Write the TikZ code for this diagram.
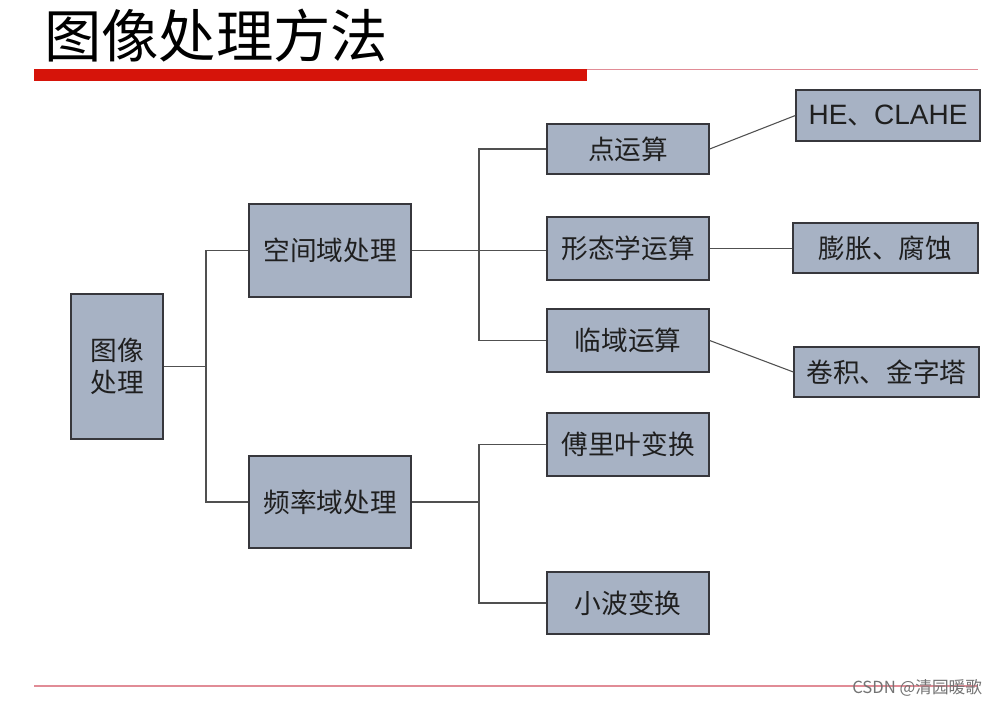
\documentclass[tikz,border=0pt]{standalone}
\usepackage{fontspec}
\newfontfamily\cjk{Noto Sans CJK SC}
\newfontfamily\lat{Liberation Sans}
\definecolor{boxfill}{RGB}{167,178,196}
\definecolor{boxline}{RGB}{55,55,60}
\definecolor{connline}{RGB}{80,80,80}
\definecolor{barred}{RGB}{214,20,10}
\definecolor{thinred}{RGB}{225,140,150}
\tikzset{
  box/.style={draw=boxline, line width=1pt, fill=boxfill, inner sep=0pt,
    font=\cjk\fontsize{20}{24}\selectfont, text=black!88, align=center},
  conn/.style={draw=connline, line width=0.8pt},
}
\newcommand{\mybox}[6]{%
  \node[box, minimum width={(#4-#2)*0.75pt}, minimum height={(#5-#3)*0.75pt}]
    (#1) at ({(#2+#4)/2},{(#3+#5)/2}) {#6};}
\begin{document}
\begin{tikzpicture}[x=0.75pt,y=-0.75pt]
\useasboundingbox (0,0) rectangle (1005,706);
\fill[white] (0,0) rectangle (1005,706);
% title
\node[anchor=west, font=\cjk\fontsize{43}{46}\selectfont, inner sep=0pt] (title) at (44,36) {图像处理方法};
\fill[barred] (34,69) rectangle (587,81);
\draw[thinred, line width=0.7pt] (587,69.5) -- (978,69.5);
% bottom line
\draw[thinred, line width=0.8pt] (34,686) -- (978,686);
% boxes
\mybox{img}{71}{294}{163}{439}{图像\\处理}
\mybox{sp}{249}{204}{411}{297}{空间域处理}
\mybox{fr}{249}{456}{411}{548}{频率域处理}
\mybox{dian}{547}{124}{709}{174}{点运算}
\mybox{xing}{547}{217}{709}{280}{形态学运算}
\mybox{lin}{547}{309}{709}{372}{临域运算}
\mybox{fu}{547}{413}{709}{476}{傅里叶变换}
\mybox{xiao}{547}{572}{709}{634}{小波变换}
\mybox{he}{796}{90}{980}{141}{{\lat\fontsize{21}{24}\selectfont HE}、{\lat\fontsize{21}{24}\selectfont CLAHE}}
\mybox{peng}{793}{223}{978}{273}{膨胀、腐蚀}
\mybox{juan}{794}{347}{979}{397}{卷积、金字塔}
% junctions
\coordinate (j1) at (206,366.5);
\coordinate (j2) at (479,250.5);
\coordinate (j3) at (479,502);
% connectors
\draw[conn] (img.east) -- (j1);
\draw[conn] (sp.west) -| (j1) |- (fr.west);
\draw[conn] (sp.east) -- (j2);
\draw[conn] (dian.west) -| (j2) |- (lin.west);
\draw[conn] (j2) -- (j2 -| xing.west);
\draw[conn] (fr.east) -- (j3);
\draw[conn] (fu.west) -| (j3) |- (xiao.west);
\draw[conn] (dian.east) -- (he.west);
\draw[conn] (xing.east) -- (xing.east -| peng.west);
\draw[conn] (lin.east) -- (juan.west);
% watermark
\node[anchor=west, font=\cjk\fontsize{12.5}{14}\selectfont, text=black!55, inner sep=0pt] (wm) at (852,688) {CSDN @清园暖歌};
\end{tikzpicture}
\end{document}
